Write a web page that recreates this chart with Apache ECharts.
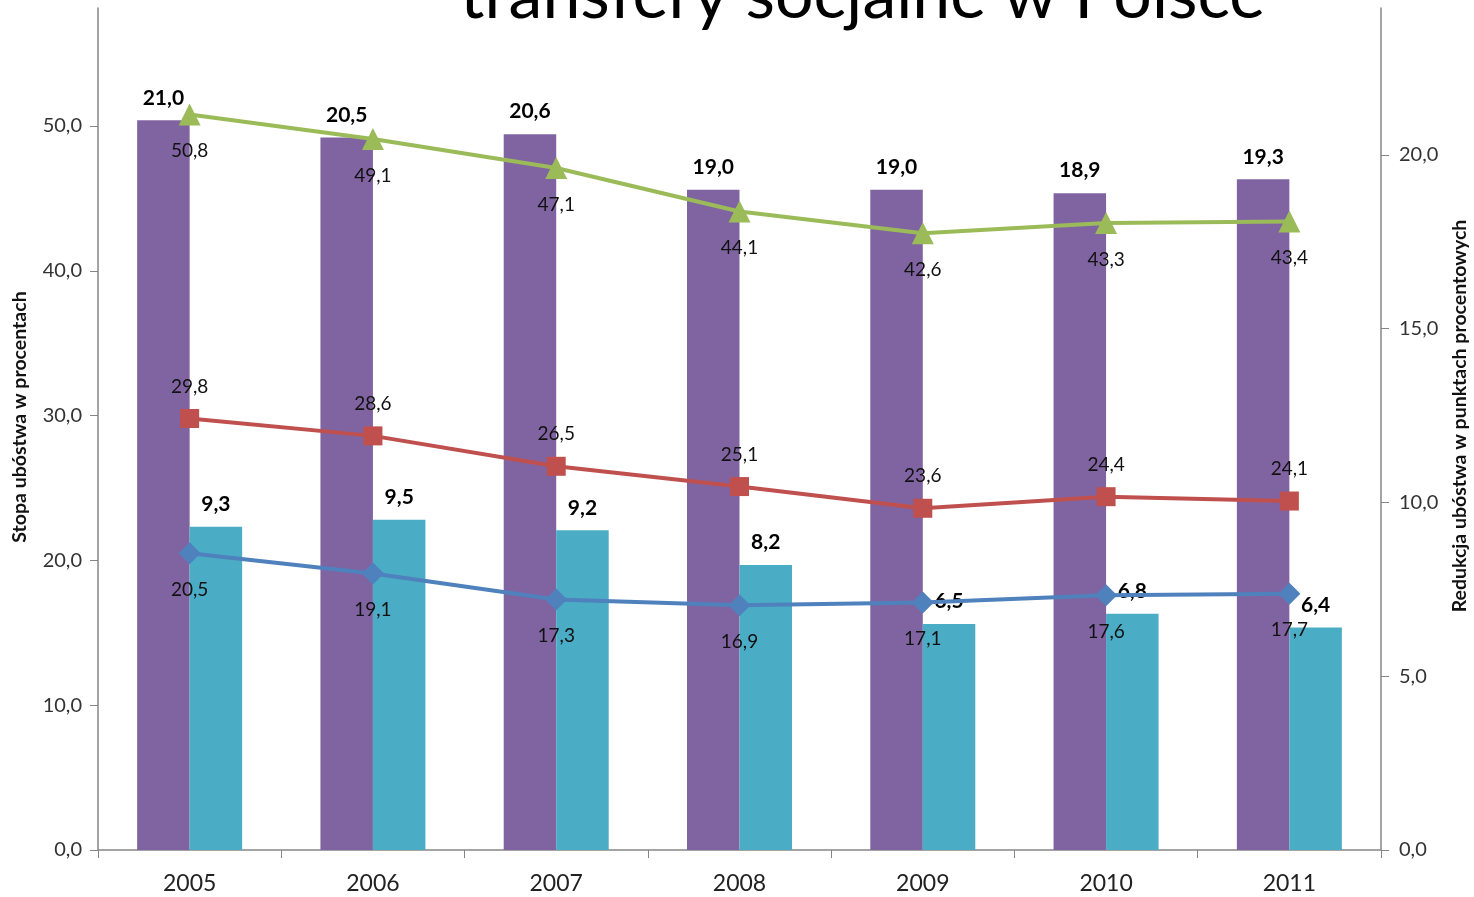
<!DOCTYPE html>
<html><head><meta charset="utf-8">
<script src="https://cdn.jsdelivr.net/npm/echarts@6/dist/echarts.min.js"></script>
<style>html,body{margin:0;padding:0;background:#fff}#c{width:1474px;height:897px}</style>
</head><body><div id="c"></div>
<script>
var years = ['2005','2006','2007','2008','2009','2010','2011'];
var reductionTotal = [21.0, 20.5, 20.6, 19.0, 19.0, 18.9, 19.3];
var reductionOther = [9.3, 9.5, 9.2, 8.2, 6.5, 6.8, 6.4];
var beforeAll = [50.8, 49.1, 47.1, 44.1, 42.6, 43.3, 43.4];
var afterPensions = [29.8, 28.6, 26.5, 25.1, 23.6, 24.4, 24.1];
var afterAll = [20.5, 19.1, 17.3, 16.9, 17.1, 17.6, 17.7];
var leftTicks = [0, 10, 20, 30, 40, 50];
var rightTicks = [0, 5, 10, 15, 20];
var leftName = 'Stopa ubóstwa w procentach';
var rightName = 'Redukcja ubóstwa w punktach procentowych';

var FONT = 'Lato';
function fmt(v){ return Number(v).toFixed(1).replace('.', ','); }
function lblFmt(p){ return fmt(p.value); }

var chart = echarts.init(document.getElementById('c'));
chart.setOption({
  animation: false,
  textStyle: {fontFamily: FONT},
  graphic: [{
    type: 'text', left: 460, top: -38,
    style: {text: 'transfery socjalne w Polsce', font: '68px Lato', fill: '#000'}
  }, {
    type: 'text', x: 20, y: 417, rotation: Math.PI / 2,
    style: {text: leftName, font: 'bold 19.5px Lato', fill: '#111', align: 'center', verticalAlign: 'middle'}
  }, {
    type: 'text', x: 1460, y: 416, rotation: Math.PI / 2,
    style: {text: rightName, font: 'bold 19.5px Lato', fill: '#111', align: 'center', verticalAlign: 'middle'}
  }],
  grid: {left: 98, right: 93, top: 8, bottom: 47, containLabel: false, outerBoundsMode: 'none'},
  xAxis: {
    type: 'category', data: years, boundaryGap: true,
    axisLine: {lineStyle: {color: '#868686', width: 1.5}},
    axisTick: {show: true, inside: false, length: 8, lineStyle: {color: '#868686'}},
    axisLabel: {color: '#222', fontSize: 23, margin: 22, fontFamily: FONT}
  },
  yAxis: [{
    type: 'value', min: 0, max: 58.15,
    axisLine: {show: true, lineStyle: {color: '#868686', width: 1.5}},
    axisTick: {show: true, length: 8, lineStyle: {color: '#868686'}, customValues: leftTicks},
    axisLabel: {color: '#333', fontSize: 20, margin: 16, formatter: fmt, customValues: leftTicks},
    splitLine: {show: false}
  }, {
    type: 'value', min: 0, max: 24.23, position: 'right',
    axisLine: {show: true, lineStyle: {color: '#868686', width: 1.5}},
    axisTick: {show: true, length: 8, lineStyle: {color: '#868686'}, customValues: rightTicks},
    axisLabel: {color: '#333', fontSize: 20, margin: 18, formatter: fmt, customValues: rightTicks},
    splitLine: {show: false}
  }],
  series: [{
    type: 'bar', yAxisIndex: 1, data: reductionTotal, barWidth: 52.5, barGap: '0%',
    itemStyle: {color: '#8064A2'},
    label: {show: true, position: 'top', distance: 12, formatter: lblFmt, fontWeight: 'bold', fontSize: 21, color: '#000'}
  }, {
    type: 'bar', yAxisIndex: 1, data: reductionOther, barWidth: 52.5, barGap: '0%',
    itemStyle: {color: '#4BACC6'},
    label: {show: true, position: 'top', distance: 12, formatter: lblFmt, fontWeight: 'bold', fontSize: 21, color: '#000'}
  }, {
    type: 'line', yAxisIndex: 0, data: beforeAll, symbol: 'triangle', symbolSize: 22,
    lineStyle: {color: '#9BBB59', width: 4}, itemStyle: {color: '#9BBB59'},
    label: {show: true, position: 'bottom', distance: 16, formatter: lblFmt, fontSize: 19, color: '#111'}
  }, {
    type: 'line', yAxisIndex: 0, data: afterPensions, symbol: 'rect', symbolSize: 19,
    lineStyle: {color: '#C0504D', width: 4}, itemStyle: {color: '#C0504D'},
    label: {show: true, position: 'top', distance: 13, formatter: lblFmt, fontSize: 19, color: '#111'}
  }, {
    type: 'line', yAxisIndex: 0, data: afterAll, symbol: 'diamond', symbolSize: 22,
    lineStyle: {color: '#4F81BD', width: 4}, itemStyle: {color: '#4F81BD'},
    label: {show: true, position: 'bottom', distance: 16, formatter: lblFmt, fontSize: 19, color: '#111'}
  }]
});
</script></body></html>
